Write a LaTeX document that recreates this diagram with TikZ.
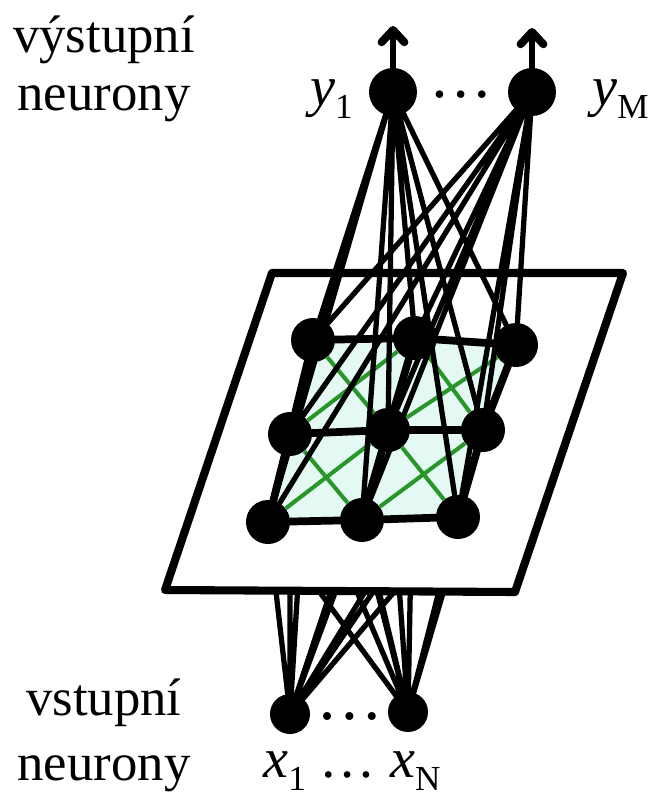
\documentclass[tikz,border=0pt]{standalone}
\usepackage{fontspec}
\setmainfont{Liberation Serif}
\usetikzlibrary{arrows.meta, positioning}
\pgfdeclarelayer{behind}
\pgfdeclarelayer{plane}
\pgfsetlayers{behind,plane,main}
\definecolor{cellfill}{RGB}{228,248,244}
\definecolor{latgreen}{RGB}{40,150,40}
\newcommand{\sublab}[2]{\textit{#1}\raisebox{-7.5pt}{\fontsize{20}{20}\selectfont #2}}

\begin{document}
\begin{tikzpicture}[
  x=0.02cm, y=-0.02cm,
  neuron/.style={circle, fill=black, inner sep=0pt, minimum size=0.88cm},
  outneuron/.style={neuron, minimum size=0.96cm},
  inneuron/.style={neuron, minimum size=0.8cm},
  link/.style={line width=3pt, line cap=round},
  latline/.style={line width=4.4pt, line cap=round},
  lateral/.style={latgreen, line width=2.3pt},
  txt/.style={font=\fontsize{30}{33}\selectfont, inner sep=0pt},
  mathtxt/.style={font=\fontsize{32}{32}\selectfont, inner sep=0pt},
  arrow/.style={-{Straight Barb[length=7pt, width=13pt, round, line width=4.5pt]}}
]
\useasboundingbox (0,0) rectangle (658,798);

% Nodes
\node[outneuron] (y1) at (393,92) {};
\node[outneuron] (yM) at (532,92) {};
\node[txt, font=\fontsize{36}{36}\selectfont] (ydots) at (461,95) {…};
\coordinate (y1out) at (393,26);
\coordinate (yMout) at (532,28);

\node[neuron] (g11) at (313,340) {};
\node[neuron] (g12) at (415,338) {};
\node[neuron] (g13) at (516,345) {};
\node[neuron] (g21) at (290,434) {};
\node[neuron] (g22) at (388,430) {};
\node[neuron] (g23) at (483,430) {};
\node[neuron] (g31) at (268,522) {};
\node[neuron] (g32) at (362,520) {};
\node[neuron] (g33) at (458,517) {};

\node[inneuron] (x1) at (290,714) {};
\node[inneuron] (xN) at (408,712) {};
\node[txt, font=\fontsize{38}{38}\selectfont] (xdots) at (350,716) {…};

% Labels
\node[txt, anchor=base] (outtxt1) at (104,52) {výstupní};
\node[txt, anchor=base] (outtxt2) at (104,110) {neurony};
\node[txt, anchor=base] (intxt1) at (104,715) {vstupní};
\node[txt, anchor=base] (intxt2) at (104,780) {neurony};
\node[mathtxt, anchor=base east] (y1lab) at (353,105) {\sublab{y}{1}};
\node[mathtxt, anchor=base west] (yMlab) at (592,105) {\sublab{y}{M}};
\node[mathtxt, anchor=base] (xlab) at (352,777) {\sublab{x}{1} \ldots{} \sublab{x}{N}};

% Input links (hidden behind the plane)
\begin{pgfonlayer}{behind}
\draw[link] (x1) -- (g11) (x1) -- (g12) (x1) -- (g13)
            (x1) -- (g21) (x1) -- (g22) (x1) -- (g23)
            (x1) -- (g31) (x1) -- (g32) (x1) -- (g33);
\draw[link] (xN) -- (g11) (xN) -- (g12) (xN) -- (g13)
            (xN) -- (g21) (xN) -- (g22) (xN) -- (g23)
            (xN) -- (g31) (xN) -- (g32) (xN) -- (g33);
\end{pgfonlayer}

% Plane
\begin{pgfonlayer}{plane}
\draw[fill=white, line width=4.6pt, line join=round]
  (272,273) -- (623,273) -- (515,592) -- (165,590) -- cycle;
\fill[cellfill] (g11.center) -- (g12.center) -- (g13.center) -- (g23.center)
  -- (g33.center) -- (g32.center) -- (g31.center) -- (g21.center) -- cycle;
\end{pgfonlayer}

% Lateral links
\draw[lateral] (g11) -- (g22) (g21) -- (g12);
\draw[lateral] (g12) -- (g23) (g22) -- (g13);
\draw[lateral] (g21) -- (g32) (g31) -- (g22);
\draw[lateral] (g22) -- (g33) (g32) -- (g23);
\draw[latline] (g11) -- (g12) -- (g13);
\draw[latline] (g21) -- (g22) -- (g23);
\draw[latline] (g31) -- (g32) -- (g33);
\draw[latline] (g11) -- (g21) -- (g31);
\draw[latline] (g12) -- (g22) -- (g32);
\draw[latline] (g13) -- (g23) -- (g33);

% Output links
\draw[link] (y1) -- (g11) (y1) -- (g12) (y1) -- (g13)
            (y1) -- (g21) (y1) -- (g22) (y1) -- (g23)
            (y1) -- (g31) (y1) -- (g32) (y1) -- (g33);
\draw[link] (yM) -- (g11) (yM) -- (g12) (yM) -- (g13)
            (yM) -- (g21) (yM) -- (g22) (yM) -- (g23)
            (yM) -- (g31) (yM) -- (g32) (yM) -- (g33);
\draw[link, line width=3.4pt, arrow] (y1) -- (y1out);
\draw[link, line width=3.4pt, arrow] (yM) -- (yMout);
\end{tikzpicture}
\end{document}
